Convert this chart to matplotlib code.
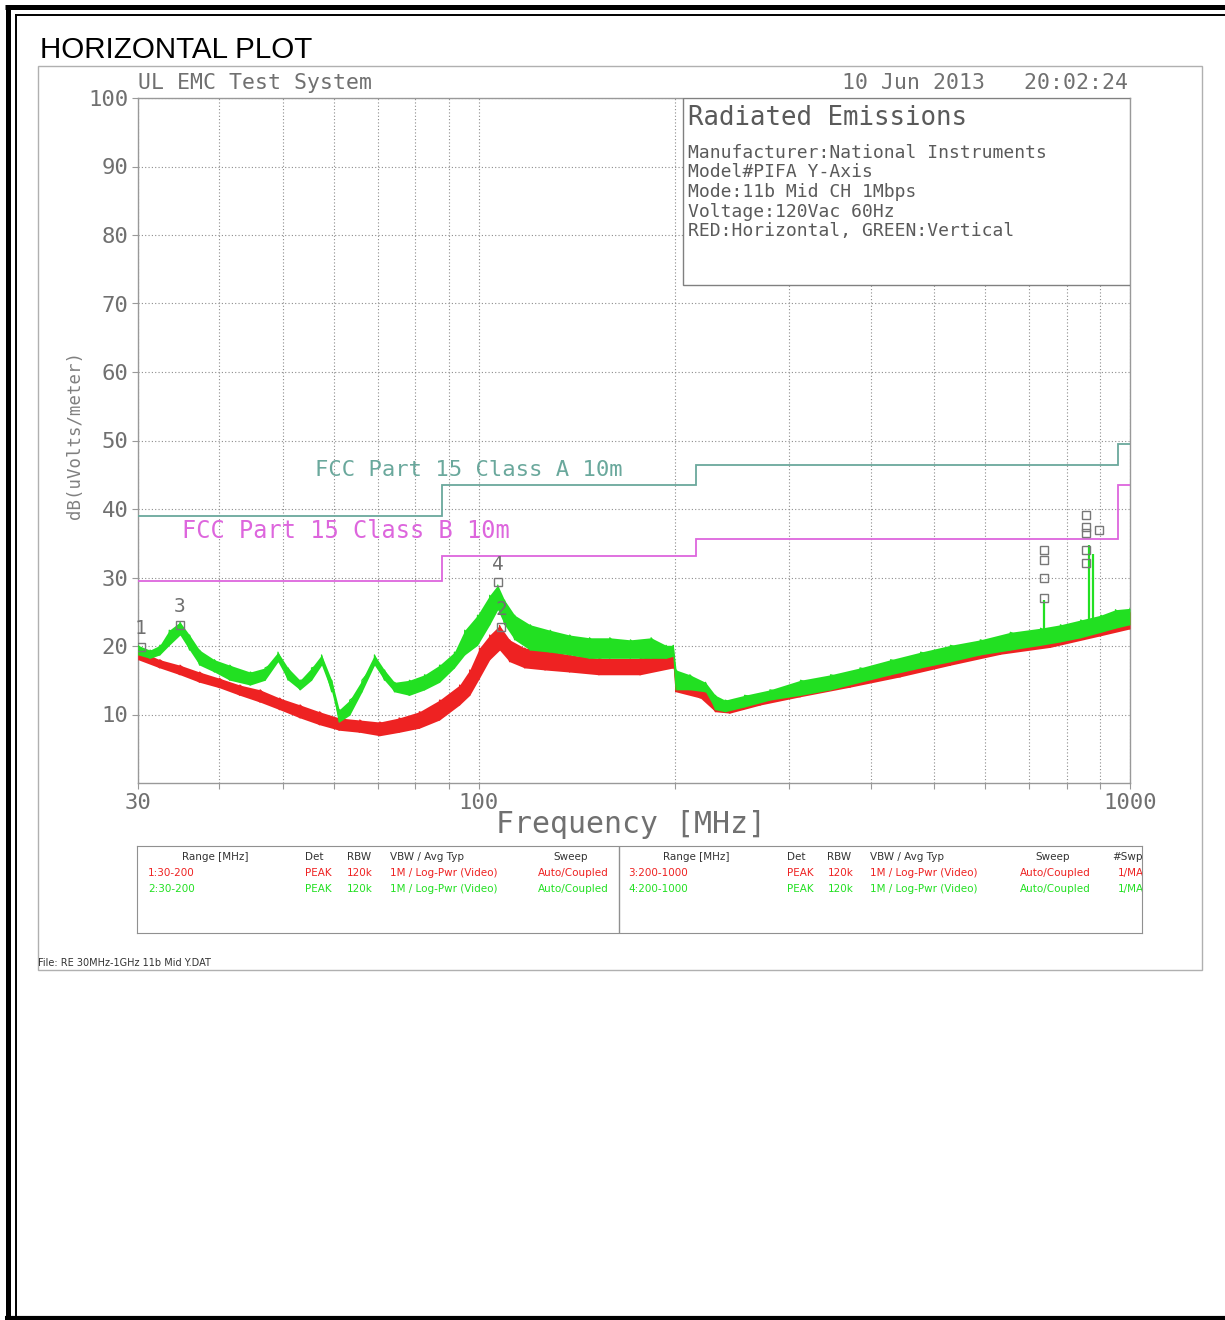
import numpy as np
import matplotlib
matplotlib.use("Agg")
from matplotlib import pyplot as plt
from matplotlib.patches import Rectangle
from matplotlib.ticker import NullFormatter

W, H = 1225, 1320
MONO = "DejaVu Sans Mono"

# FCC limits, dB(uV/m), steps at these edges (MHz)
limit_edges = [30, 88, 216, 960, 1000]
class_a = [39.0, 43.5, 46.4, 49.5]
class_b = [29.5, 33.1, 35.6, 43.5]

# vertical polarisation (green): noise band
green_freq = [30, 31.3, 32.4, 33.5, 34.8, 36.0, 37.3, 39.3, 41.5, 44.6, 47.0, 49.2,
              51.0, 53.2, 55.4, 57.4, 59.5, 61.1, 63.4, 66.2, 69.2, 71.7, 74.3, 78.3,
              82.6, 87.1, 91.8, 95.2, 99.6, 104, 107, 109.6, 113.6, 120, 128.8, 138,
              148, 159, 171, 184, 194, 199, 201, 211, 223, 231, 239, 256, 280, 312,
              347, 385, 429, 477, 530, 589, 655, 729, 782, 840, 902, 950, 1000]
green_lo = [18.7, 18.2, 18.7, 20.1, 21.6, 19.4, 17.2, 16.2, 15.0, 14.3, 15.0, 17.7,
            15.0, 13.6, 15.0, 17.2, 13.3, 8.9, 9.9, 13.3, 17.2, 15.0, 13.3, 12.8,
            13.6, 14.7, 16.8, 18.7, 20.1, 23.1, 25.3, 23.1, 20.9, 19.4, 19.1, 18.7,
            18.2, 18.2, 18.2, 18.2, 18.2, 18.5, 13.6, 13.6, 13.3, 10.7, 10.4, 11.1,
            12.1, 12.8, 13.6, 14.7, 15.8, 16.8, 17.7, 18.7, 19.4, 20.1, 20.6, 21.2,
            22.0, 22.6, 23.1]
green_hi = [20.1, 19.4, 20.1, 22.3, 23.5, 21.6, 19.4, 18.0, 17.2, 16.2, 16.8, 19.1,
            16.8, 15.0, 16.8, 18.7, 15.0, 10.7, 12.1, 15.0, 18.7, 16.5, 14.7, 15.0,
            15.8, 17.2, 19.1, 22.3, 24.5, 27.4, 28.9, 26.7, 24.5, 23.1, 22.3, 21.6,
            21.2, 21.2, 20.9, 21.2, 20.1, 20.1, 16.5, 15.8, 14.7, 12.8, 12.1, 12.8,
            13.6, 15.0, 15.8, 16.8, 18.0, 19.1, 20.1, 20.9, 22.0, 22.6, 23.1, 23.8,
            24.5, 25.3, 25.5]
spike_freq = [737, 864, 876]
spike_base = [21.0, 22.5, 22.5]
spike_top = [26.7, 34.7, 33.5]

# horizontal polarisation (red)
red_freq = [30, 32.4, 34.8, 37.3, 40.0, 43.0, 46.2, 49.5, 53.2, 57.0, 61.1, 65.7,
            70.5, 75.5, 81.1, 87.1, 93.5, 96.9, 100.3, 104, 107.7, 111.6, 117.7,
            126.5, 138, 153, 177, 199, 201, 219, 231, 243, 271, 312, 372, 444, 530,
            633, 754, 902, 1000]
red_lo = [18.0, 16.8, 15.8, 14.7, 13.9, 12.8, 11.8, 10.7, 9.5, 8.5, 7.7, 7.4,
          6.9, 7.4, 8.0, 9.2, 11.4, 12.8, 15.3, 18.0, 19.4, 17.7, 16.8,
          16.5, 16.2, 15.8, 15.8, 16.8, 13.3, 12.4, 10.4, 10.2, 11.4, 12.6, 14.0,
          15.5, 17.2, 18.8, 19.8, 21.5, 22.5]
red_hi = [19.4, 18.0, 17.2, 16.2, 15.3, 14.3, 13.6, 12.4, 11.4, 10.4, 9.5, 9.2,
          8.9, 9.5, 10.4, 12.1, 14.3, 16.5, 19.7, 21.6, 23.0, 20.9, 19.7,
          19.4, 18.7, 18.2, 18.2, 19.1, 15.3, 14.3, 12.1, 11.8, 13.0, 14.6, 16.0,
          17.6, 19.6, 21.2, 22.4, 24.0, 25.0]

# numbered peak markers
mark_freq = [30.3, 34.8, 107.0, 108.3]
mark_level = [19.9, 23.1, 29.3, 22.8]
mark_label = ["1", "3", "4", "2"]
box_freq = [737, 737, 737, 737, 855, 855, 855, 855, 855, 895]
box_level = [34.0, 32.6, 29.9, 27.0, 39.1, 37.4, 36.5, 34.0, 32.1, 36.9]

info_title = "Radiated Emissions"
info_lines = ["Manufacturer:National Instruments",
              "Model#PIFA Y-Axis",
              "Mode:11b Mid CH 1Mbps",
              "Voltage:120Vac 60Hz",
              "RED:Horizontal, GREEN:Vertical"]

table_head = ["Range [MHz]", "Det", "RBW", "VBW / Avg Typ", "Sweep"]
table_rows_left = [["1:30-200", "PEAK", "120k", "1M / Log-Pwr (Video)", "Auto/Coupled"],
                   ["2:30-200", "PEAK", "120k", "1M / Log-Pwr (Video)", "Auto/Coupled"]]
table_rows_right = [["3:200-1000", "PEAK", "120k", "1M / Log-Pwr (Video)", "Auto/Coupled", "1/MAX"],
                    ["4:200-1000", "PEAK", "120k", "1M / Log-Pwr (Video)", "Auto/Coupled", "1/MAX"]]

RED = "#ee2222"
GREEN = "#22e022"
TEAL = "#6aa89c"
MAGENTA = "#dd66dd"
GRAY = "#707070"
LGRAY = "#999999"

fig = plt.figure(figsize=(W / 100, H / 100), dpi=100)

# page frame (pixel coordinates)
deco = fig.add_axes([0, 0, 1, 1], zorder=0)
deco.set_xlim(0, W)
deco.set_ylim(H, 0)
deco.axis("off")
deco.plot([7.5, 7.5], [5, H], color="black", lw=3.6, solid_capstyle="butt")
deco.plot([5, W], [7, 7], color="black", lw=3.6, solid_capstyle="butt")
deco.plot([15.5, 15.5], [13.5, H], color="black", lw=1.4, solid_capstyle="butt")
deco.plot([15, W], [14.5, 14.5], color="black", lw=1.4, solid_capstyle="butt")
deco.plot([5, W], [1318, 1318], color="black", lw=3.0, solid_capstyle="butt")
deco.add_patch(Rectangle((38, 66), 1164, 904, fill=False, ec="#b0b0b0", lw=1))

fig.text(40 / W, 1 - 50 / H, "HORIZONTAL PLOT", fontsize=21.3,
         family="Liberation Sans", va="center", ha="left")
fig.text(38 / W, 1 - 963 / H, "File: RE 30MHz-1GHz 11b Mid Y.DAT", fontsize=7,
         family="DejaVu Sans", va="center", ha="left", color="#333333")

# main plot
ax = fig.add_axes([138 / W, 1 - 783 / H, 992 / W, 685 / H], zorder=2)
ax.set_xscale("log")
ax.set_xlim(30, 1000)
ax.set_ylim(0, 100)
ax.set_xticks([30, 100, 1000])
ax.set_xticklabels(["30", "100", "1000"])
ax.set_xticks([40, 50, 60, 70, 80, 90, 200, 300, 400, 500, 600, 700, 800, 900], minor=True)
ax.xaxis.set_minor_formatter(NullFormatter())
ax.set_yticks(range(10, 101, 10))
ax.set_yticklabels([str(v) for v in range(10, 101, 10)])
ax.grid(which="both", axis="x", ls=(0, (1, 2)), color="#8c8c8c", lw=0.8)
ax.grid(which="major", axis="y", ls=(0, (1, 2)), color="#8c8c8c", lw=0.8)
ax.tick_params(which="both", colors=LGRAY, length=4, width=0.8, direction="out")
ax.tick_params(labelcolor=GRAY, labelsize=16, pad=3)
for lab in ax.get_xticklabels() + ax.get_yticklabels():
    lab.set_family(MONO)
for sp in ax.spines.values():
    sp.set_color(LGRAY)
    sp.set_linewidth(1)

ax.set_xlabel("Frequency [MHz]", family=MONO, fontsize=21.5, color=GRAY, va="center")
ax.xaxis.set_label_coords(0.497, -0.061)
ax.set_ylabel("dB(uVolts/meter)", family=MONO, fontsize=12.5, color="#808080", va="center")
ax.yaxis.set_label_coords(-0.0635, 0.508)

# traces
ax.fill_between(red_freq, red_lo, red_hi, color=RED, lw=0, zorder=3)
ax.plot(np.repeat(red_freq, 2), np.column_stack([red_lo, red_hi]).ravel(),
        color=RED, lw=0.9, zorder=3)
ax.fill_between(green_freq, green_lo, green_hi, color=GREEN, lw=0, zorder=4)
ax.plot(np.repeat(green_freq, 2), np.column_stack([green_lo, green_hi]).ravel(),
        color=GREEN, lw=0.9, zorder=4)
ax.vlines(spike_freq, spike_base, spike_top, color=GREEN, lw=1.6, zorder=4)

# limits
ax.stairs(class_a, limit_edges, baseline=None, color=TEAL, lw=1.3, zorder=5)
ax.stairs(class_b, limit_edges, baseline=None, color=MAGENTA, lw=1.3, zorder=5)
ax.text(56, 45.7, "FCC Part 15 Class A 10m", family=MONO, fontsize=16,
        color=TEAL, va="center", ha="left", zorder=5)
ax.text(35, 36.8, "FCC Part 15 Class B 10m", family=MONO, fontsize=17,
        color=MAGENTA, va="center", ha="left", zorder=5)

# markers
ax.plot(mark_freq, mark_level, ls="none", marker="s", ms=6, mfc="none",
        mec="#777777", mew=1, zorder=6)
ax.plot(box_freq, box_level, ls="none", marker="s", ms=6, mfc="none",
        mec="#777777", mew=1, zorder=6)
for f, lv, lb in zip(mark_freq, mark_level, mark_label):
    ax.text(f, lv + 2.6, lb, family=MONO, fontsize=14, color=GRAY,
            ha="center", va="center", zorder=6)

# header texts
ax.text(0, 1.022, "UL EMC Test System", transform=ax.transAxes, family=MONO,
        fontsize=15.5, color=GRAY, va="center", ha="left")
ax.text(0.998, 1.022, "10 Jun 2013   20:02:24", transform=ax.transAxes, family=MONO,
        fontsize=15.5, color=GRAY, va="center", ha="right")

# info box
ax.add_patch(Rectangle((0.549, 0.727), 0.451, 0.273, transform=ax.transAxes,
                       fill=True, fc="white", ec="#808080", lw=1, zorder=7))
ax.text(0.554, 0.971, info_title, transform=ax.transAxes, family=MONO,
        fontsize=18.5, color="#5a5a5a", va="center", ha="left", zorder=8)
for i, line in enumerate(info_lines):
    ax.text(0.554, 0.920 - i * 0.0286, line, transform=ax.transAxes, family=MONO,
            fontsize=13, color="#5a5a5a", va="center", ha="left", zorder=8)

# settings table
tb = fig.add_axes([137 / W, 1 - 933 / H, 1005 / W, 87 / H], zorder=2)
tb.set_xlim(0, 1)
tb.set_ylim(0, 1)
tb.set_xticks([])
tb.set_yticks([])
for sp in tb.spines.values():
    sp.set_color("#909090")
tb.axvline(0.4796, color="#909090", lw=1)
tfont = dict(family="DejaVu Sans", fontsize=7.5, va="center", ha="left", clip_on=True)
head_x_left = [0.0448, 0.167, 0.209, 0.252, 0.414]
row_x_left = [0.011, 0.167, 0.209, 0.252, 0.399]
head_x_right = [0.523, 0.647, 0.687, 0.729, 0.8935, 0.970]
row_x_right = [0.4886, 0.647, 0.687, 0.729, 0.8786, 0.976]
for x, t in zip(head_x_left, table_head):
    tb.text(x, 0.874, t, color="#333333", **tfont)
for x, t in zip(head_x_right, table_head + ["#Swps"]):
    tb.text(x, 0.874, t, color="#333333", **tfont)
for row, y, c in zip(table_rows_left, [0.69, 0.506], [RED, GREEN]):
    for x, t in zip(row_x_left, row):
        tb.text(x, y, t, color=c, **tfont)
for row, y, c in zip(table_rows_right, [0.69, 0.506], [RED, GREEN]):
    for x, t in zip(row_x_right, row):
        tb.text(x, y, t, color=c, **tfont)

fig.savefig("out.png", dpi=100)
